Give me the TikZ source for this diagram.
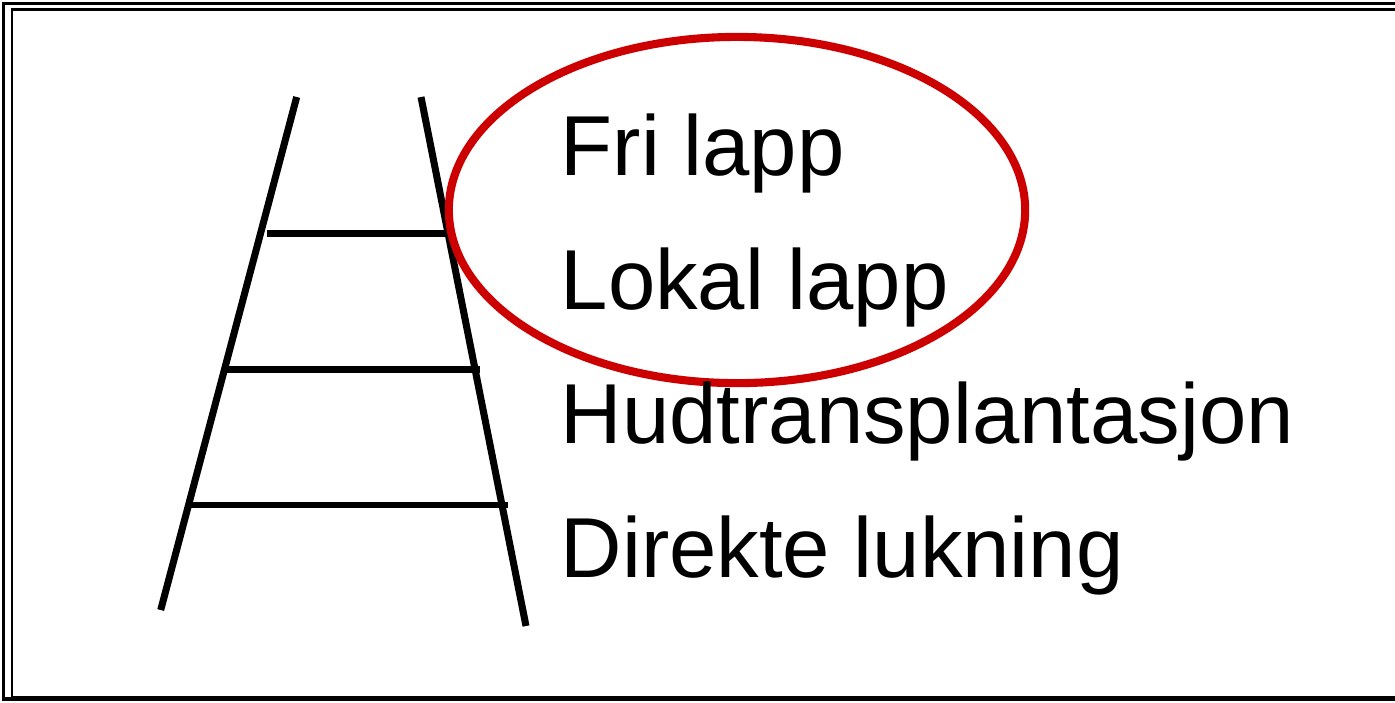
\documentclass[tikz,border=0pt]{standalone}
\usepackage{fontspec}
\setmainfont{Liberation Sans}
\usetikzlibrary{shapes.geometric}
\definecolor{ringred}{HTML}{CC0000}
\begin{document}
\begin{tikzpicture}[x=0.01cm,y=-0.01cm,
  rail/.style={line width=2pt,black},
  rung/.style={line width=1.85pt,black},
  ring/.style={draw=ringred,line width=2.3pt,ellipse,inner sep=0pt,minimum width=5.76cm,minimum height=3.46cm},
  lbl/.style={anchor=base west,inner sep=0pt,font=\fontsize{24.2pt}{29pt}\selectfont}]
\useasboundingbox (0,0) rectangle (1395,702);
\clip (0,0) rectangle (1395,702);
% frame
\draw[line width=0.9pt] (1420,3.5) -- (3.5,3.5) -- (3.5,699) -- (1420,699);
\draw[line width=0.6pt] (1420,9.5) -- (12,9.5) -- (12,697) -- (1420,697);
% ladder
\coordinate (lt) at (296.7,97);
\coordinate (lb) at (160.7,610);
\coordinate (rt) at (421,97);
\coordinate (rb) at (526,626);
\coordinate (r1a) at (267,233.5);
\coordinate (r1b) at (445,233.5);
\coordinate (r2a) at (226,369.5);
\coordinate (r2b) at (480,369.5);
\coordinate (r3a) at (189,505);
\coordinate (r3b) at (508,505);
\draw[rail] (lt) -- (lb);
\draw[rail] (rt) -- (rb);
\draw[rung] (r1a) -- (r1b);
\draw[rung] (r2a) -- (r2b);
\draw[rung] (r3a) -- (r3b);
% ellipse
\node[ring] (oval) at (737,210) {};
% labels
\node[lbl] (fri) at (560,175) {Fri lapp};
\node[lbl] (lokal) at (560,309) {Lokal lapp};
\node[lbl] (hud) at (560,443) {Hudtransplantasjon};
\node[lbl] (dir) at (560,577) {Direkte lukning};
\end{tikzpicture}
\end{document}
